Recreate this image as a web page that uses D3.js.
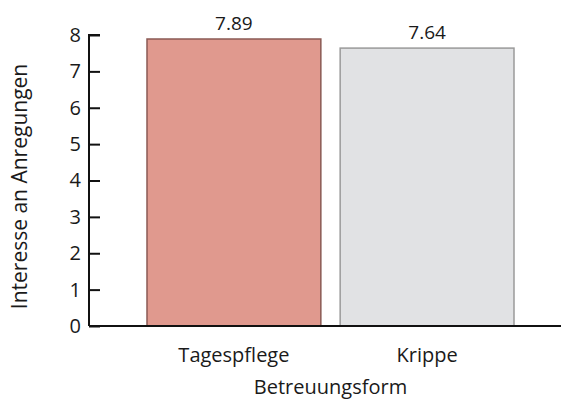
<!DOCTYPE html>
<html>
<head>
<meta charset="utf-8">
<script src="https://cdn.jsdelivr.net/npm/d3@7"></script>
<style>
body { margin: 0; background: #fff; }
text { font-family: "Open Sans", sans-serif; fill: #1a1a1a; }
</style>
</head>
<body>
<div id="chart"></div>
<script>
var categories = ["Tagespflege", "Krippe"];
var values = [7.89, 7.64];
var valueLabels = ["7.89", "7.64"];
var yTicks = [0, 1, 2, 3, 4, 5, 6, 7, 8];
var fills = ["#e0998e", "#e1e2e4"];
var strokes = ["#8a5a54", "#9a9a9a"];

var margin = {top: 35, right: 0, bottom: 77, left: 89},
    width = 561 - margin.left - margin.right,
    height = 403 - margin.top - margin.bottom;

var svg = d3.select("#chart")
  .append("svg")
    .attr("width", 561)
    .attr("height", 403)
  .append("g")
    .attr("transform", "translate(" + margin.left + "," + margin.top + ")");

// y scale
var y = d3.scaleLinear()
  .domain([0, 8])
  .range([height, 0]);

// x band scale, bars sit between x=147 and x=514
var x = d3.scaleBand()
  .domain(categories)
  .range([58, 425])
  .paddingInner(0.1);

// bars
svg.selectAll("mybar")
  .data(values)
  .enter()
  .append("rect")
    .attr("x", function(d, i) { return x(categories[i]); })
    .attr("y", function(d) { return y(d); })
    .attr("width", x.bandwidth())
    .attr("height", function(d) { return height - y(d); })
    .attr("fill", function(d, i) { return fills[i]; })
    .attr("stroke", function(d, i) { return strokes[i]; })
    .attr("stroke-width", 1.5);

// value labels
svg.selectAll("mylabel")
  .data(values)
  .enter()
  .append("text")
    .attr("x", function(d, i) { return x(categories[i]) + x.bandwidth() / 2; })
    .attr("y", function(d) { return y(d) - 9; })
    .attr("text-anchor", "middle")
    .style("font-size", "19px")
    .text(function(d, i) { return valueLabels[i]; });

// Y axis
var yAxis = svg.append("g")
  .call(d3.axisRight(y).tickValues(yTicks).tickSize(11).tickFormat(d3.format("d")));
yAxis.select(".domain").attr("d", "M11," + y(8) + "H0V" + height).attr("stroke", "#111").attr("stroke-width", 2);
yAxis.selectAll(".tick line").attr("stroke", "#111").attr("stroke-width", 2);
yAxis.selectAll(".tick text")
  .attr("x", -8)
  .attr("text-anchor", "end")
  .style("font-size", "20px");

// X axis
var xAxis = svg.append("g")
  .attr("transform", "translate(0," + height + ")")
  .call(d3.axisBottom(x).tickSize(0));
xAxis.select(".domain").attr("d", "M0,0H" + width).attr("stroke", "#111").attr("stroke-width", 2);
xAxis.selectAll(".tick text")
  .attr("y", 22)
  .style("font-size", "20px");

// axis titles
svg.append("text")
  .attr("x", (58 + 425) / 2)
  .attr("y", height + 68)
  .attr("text-anchor", "middle")
  .style("font-size", "20px")
  .text("Betreuungsform");

svg.append("text")
  .attr("transform", "translate(" + (-62) + "," + (height / 2 + 6) + ")rotate(-90)")
  .attr("text-anchor", "middle")
  .style("font-size", "21px")
  .text("Interesse an Anregungen");
</script>
</body>
</html>
